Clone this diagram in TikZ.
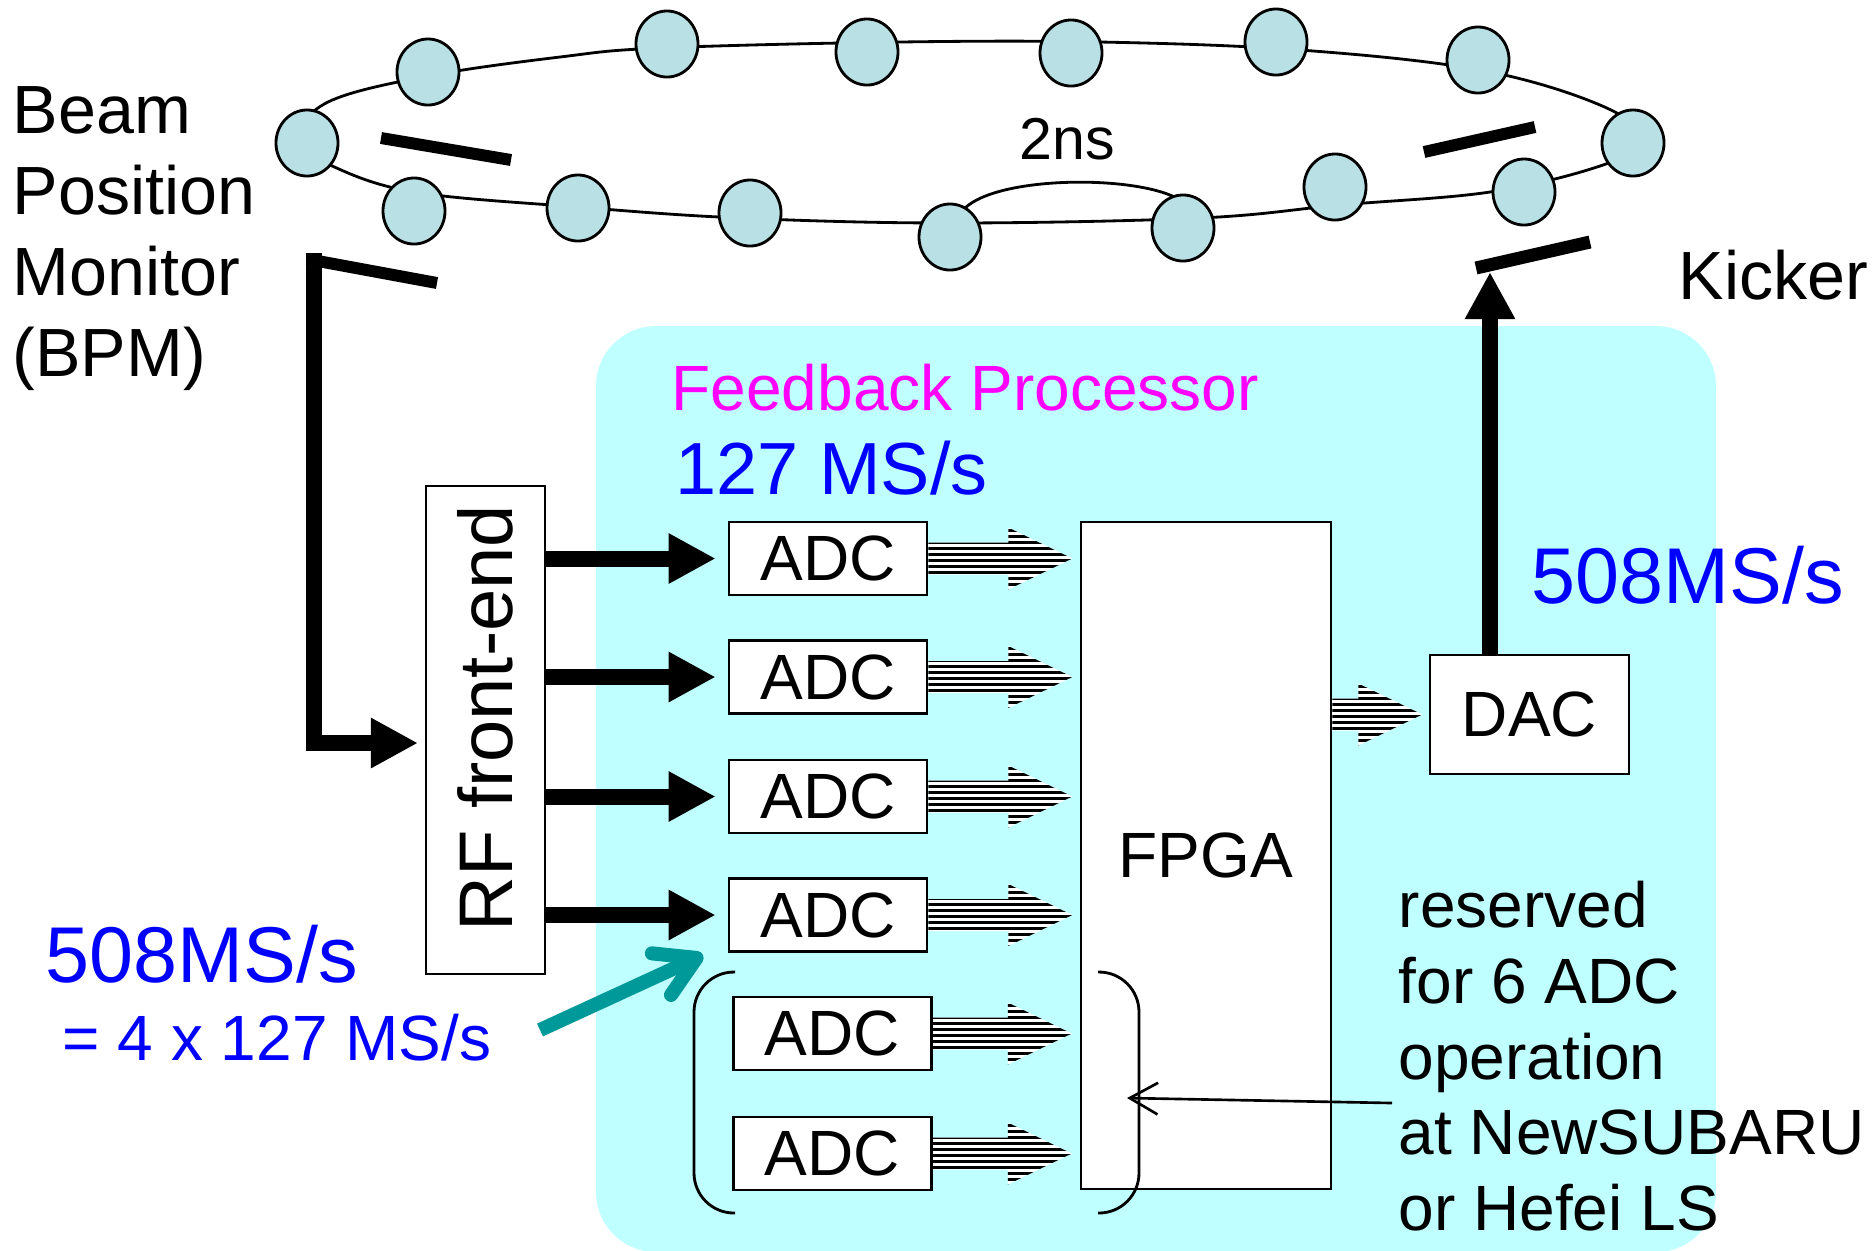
\documentclass[tikz,border=0pt]{standalone}
\usepackage{fontspec}
\setmainfont{Liberation Sans}
\usetikzlibrary{arrows.meta,calc}
\definecolor{bgcyan}{RGB}{192,255,255}
\definecolor{beadcol}{RGB}{185,224,228}
\definecolor{tealarrow}{RGB}{0,153,153}
\definecolor{magtext}{RGB}{255,0,255}
\definecolor{bluetext}{RGB}{0,0,255}
\newcommand\fsz[2]{\fontsize{#1}{#2}\selectfont}
\newcommand\stripedarrow[3]{%
  \begin{scope}[shift={(#1)}]
    \clip (0,-16) -- (#2,-16) -- (#2,-31) -- (#2+#3,0) -- (#2,31) -- (#2,16) -- (0,16) -- cycle;
    \fill[white] (0,-33) rectangle (#2+#3,33);
    \foreach \k in {-30,-24,...,30} \fill[black] (0,\k) rectangle (#2+#3,\k+3);
  \end{scope}}
\begin{document}
\begin{tikzpicture}[x=0.01cm,y=-0.01cm,
  box/.style={draw=black,fill=white,line width=0.7pt,inner sep=0pt},
  adcbox/.style={box,minimum width=1.98cm,minimum height=0.73cm,font=\fsz{18.2}{22}},
  beadst/.style={draw=black,fill=beadcol,line width=0.8pt},
  barst/.style={line width=3.4pt},
  fatarrow/.style={line width=4.55pt,-{Triangle[length=13.4pt,width=13.4pt]}},
  txt/.style={inner sep=0pt}]
\useasboundingbox (0,0) rectangle (1873,1250);
\clip (0,0) rectangle (1873,1250);
% background
\fill[bgcyan, rounded corners=0.6cm] (596,326) rectangle (1716,1252);
% ring
\draw[line width=0.8pt] plot[smooth cycle, tension=0.6] coordinates {(298,140) (328,102) (428,76) (560,57) (660,48) (900,42) (1100,42) (1300,50) (1480,70) (1600,105) (1645,140) (1600,166) (1490,192) (1340,205) (1200,218) (950,223) (740,218) (578,207) (414,192) (330,165)};
\draw[line width=0.8pt] (965,208) .. controls (1000,175) and (1140,175) .. (1180,200);
\foreach \bx/\by in {307/143,428/72,667/44,867/52,1071/53,1276/42,1478/60,1633/143,1524/192,1335/187,1183/228,950/237,750/213,578/208,414/211}
  \filldraw[beadst] (\bx,\by) ellipse [x radius=0.31cm, y radius=0.33cm];
\node[txt, font=\fsz{16.8}{20}] (twons) at (1067,139) {2ns};
% bars
\draw[barst] (381,138) -- (511,160);
\draw[barst] (1424,152) -- (1535,127);
\draw[barst] (307,259) -- (437,283);
\draw[line width=3.7pt] (1476,268) -- (1590,242);
% labels
\node[txt, anchor=north west, align=left, font=\fsz{19.4}{23}] (bpmlabel) at (12,86) {Beam\\Position\\Monitor\\(BPM)};
\node[txt, anchor=base west, font=\fsz{19.4}{23}] (kicklabel) at (1678,299) {Kicker};
\node[txt, anchor=base west, text=magtext, font=\fsz{18.2}{22}] (fbp) at (671,410) {Feedback Processor};
\node[txt, anchor=base west, text=bluetext, font=\fsz{21}{25}] (rate127) at (675,494) {127 MS/s};
\node[txt, anchor=base west, text=bluetext, font=\fsz{22.5}{27}] (rateR) at (1531,603) {508MS/s};
\node[txt, anchor=base west, text=bluetext, font=\fsz{22.5}{27}] (rateL) at (45,982) {508MS/s};
\node[txt, anchor=base west, text=bluetext, font=\fsz{18.2}{22}] (rateEq) at (62,1060) {= 4 x 127 MS/s};
\node[txt, anchor=north west, align=left, font=\fsz{18.2}{21.6}] (resv) at (1398,880) {reserved\\for 6 ADC\\operation\\at NewSUBARU\\or Hefei LS};
% boxes
\node[box, minimum width=1.19cm, minimum height=4.88cm] (rf) at (485.5,730) {};
\node[txt, rotate=90, font=\fsz{21.6}{26}] (rflabel) at ($(rf.center)+(0,-12)$) {RF front-end};
\node[adcbox] (adc1) at (828,558.5) {ADC};
\node[adcbox] (adc2) at (828,677) {ADC};
\node[adcbox] (adc3) at (828,796.5) {ADC};
\node[adcbox] (adc4) at (828,915) {ADC};
\node[adcbox] (adc5) at (832.5,1033.5) {ADC};
\node[adcbox] (adc6) at (832.5,1153.5) {ADC};
\node[box, minimum width=2.5cm, minimum height=6.67cm, font=\fsz{18.2}{22}] (fpga) at (1206,855.5) {FPGA};
\node[box, minimum width=1.99cm, minimum height=1.19cm, font=\fsz{18.2}{22}] (dac) at (1529.5,714.5) {DAC};
% coordinates
\coordinate (bpmtap) at (314,253);
\coordinate (rfin) at (418,743);
\coordinate (kicktap) at (1490,272);
\coordinate (eqtail) at (540,1030);
\coordinate (eqtip) at (703,955);
\coordinate (resvtail) at (1392,1103);
\coordinate (resvtip) at (1127,1098);
% connectors
\draw[fatarrow] (bpmtap) |- (rfin);
\foreach \i in {1,2,3,4}
  \draw[fatarrow] (rf.east |- adc\i.west) -- ([xshift=-0.12cm]adc\i.west);
\draw[fatarrow] (kicktap |- dac.north) -- (kicktap);
\stripedarrow{adc1.east}{80}{64}
\stripedarrow{adc2.east}{80}{64}
\stripedarrow{adc3.east}{80}{64}
\stripedarrow{adc4.east}{80}{64}
\stripedarrow{adc5.east}{75}{64}
\stripedarrow{adc6.east}{75}{64}
\stripedarrow{fpga.east |- dac.west}{26}{64}
\draw[tealarrow, line width=4pt, -{Straight Barb[length=11pt,width=13pt,round]}] (eqtail) -- (eqtip);
\draw[line width=0.75pt, -{Straight Barb[length=8pt,width=9pt]}] (resvtail) -- (resvtip);
% brackets
\draw[line width=0.8pt, rounded corners=0.4cm] (735,972) -- (694,972) -- (694,1213) -- (735,1213);
\draw[line width=0.8pt, rounded corners=0.4cm] (1098,972) -- (1139,972) -- (1139,1213) -- (1098,1213);
\end{tikzpicture}
\end{document}
